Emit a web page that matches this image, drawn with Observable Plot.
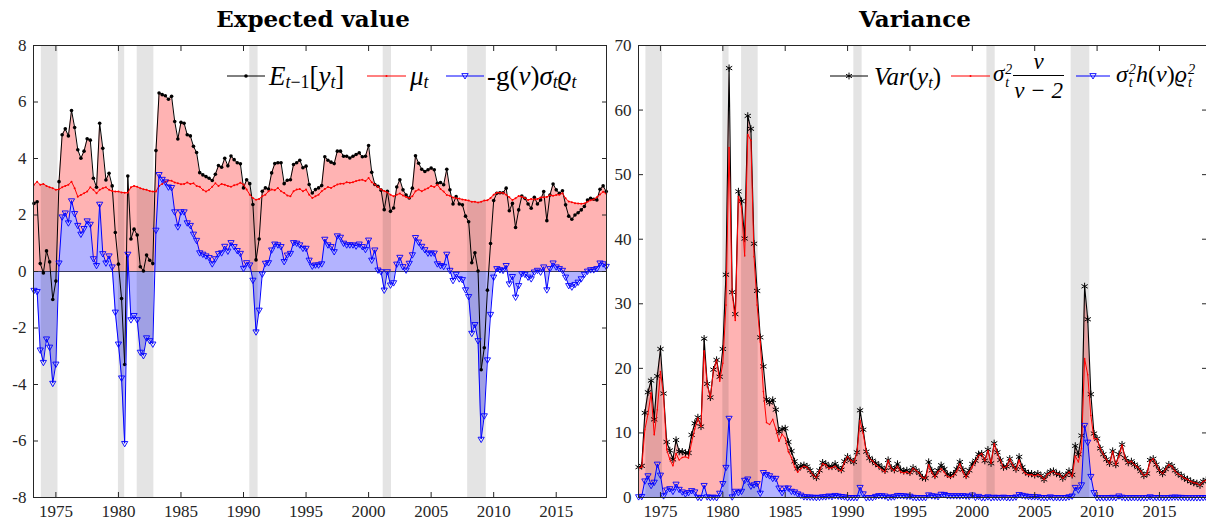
<!DOCTYPE html>
<html>
<head>
<meta charset="utf-8">
<script src="https://cdn.jsdelivr.net/npm/d3@7"></script>
<script src="https://cdn.jsdelivr.net/npm/@observablehq/plot@0.6"></script>
<style>
  html, body { margin: 0; padding: 0; background: #fff; }
  #wrap { position: relative; width: 1206px; height: 522px; overflow: hidden; background: #fff; }
  .panel { position: absolute; top: 0; }
  .title { position: absolute; top: 5px; font-family: "DejaVu Serif", serif; font-weight: bold; font-size: 23px; color: #000; transform: translateX(-50%); white-space: nowrap; }
  .lg { position: absolute; font-family: "Liberation Serif", serif; color: #000; line-height: 1; transform: translateY(-50%); white-space: nowrap; }
  .lg i { font-style: italic; }
  .lg sub { font-size: 0.66em; vertical-align: -0.22em; line-height: 0; }
  .ss { display: inline-flex; flex-direction: column; vertical-align: middle; font-size: 0.6em; line-height: 0.95em; font-style: italic; margin-left: 1px; }
  .frac { display: inline-flex; flex-direction: column; align-items: center; vertical-align: middle; font-style: italic; margin-left: 1px; }
  .frac .num { padding: 0 1px 2px 1px; }
  .frac .den { border-top: 1px solid #000; padding: 3px 1px 0 1px; }
  #legendSvg { position: absolute; left: 0; top: 0; pointer-events: none; }
</style>
</head>
<body>
<div id="wrap">
  <div id="left" class="panel" style="left:0px"></div>
  <div id="right" class="panel" style="left:606px"></div>
  <div class="title" style="left:313px">Expected value</div>
  <div class="title" style="left:915px">Variance</div>
</div>
<script>
// ---------------- data (quarterly, first quarter 1973.25) ----------------
const firstQuarter = 1973.25;
const xTicks = [1975, 1980, 1985, 1990, 1995, 2000, 2005, 2010, 2015];
const yTicksLeft = [-8, -6, -4, -2, 0, 2, 4, 6, 8];
const yTicksRight = [0, 10, 20, 30, 40, 50, 60, 70];

// recession periods (NBER)
const recStart = [1973.833, 1980.0, 1981.5, 1990.5, 2001.167, 2007.917];
const recEnd   = [1975.167, 1980.5, 1982.833, 1991.167, 2001.833, 2009.417];

// Left panel: E_{t-1}[y_t]
const E = [
 2.41, 2.47, 0.28, -0.05, 0.73, 0.34, -0.99, -0.34, 3.18, 4.84,
 5.05, 4.80, 5.70, 5.10, 4.31, 4.01, 4.26, 4.70, 4.65, 3.30,
 2.98, 5.25, 4.36, 3.24, 3.48, 3.03, 1.38, 0.26, -0.96, -3.29,
 3.38, 1.15, 1.50, 1.29, 0.17, 0.02, 0.58, 0.40, 0.28, 4.28,
 6.32, 6.26, 6.22, 6.10, 6.20, 5.31, 4.69, 5.28, 5.25, 4.84,
 4.80, 4.43, 4.21, 3.50, 3.42, 3.36, 3.30, 3.22, 3.44, 3.75,
 3.69, 4.01, 3.74, 4.09, 3.96, 3.85, 3.81, 2.96, 3.25, 3.11,
 2.37, 0.41, 1.15, 2.84, 2.96, 2.92, 3.49, 3.82, 3.85, 3.85,
 3.11, 3.23, 3.25, 3.79, 3.85, 3.94, 3.67, 3.73, 3.08, 2.78,
 2.90, 2.96, 3.04, 4.06, 3.94, 3.87, 3.82, 4.26, 4.26, 4.08,
 4.08, 4.02, 4.08, 4.14, 4.20, 4.06, 4.08, 4.46, 3.51, 3.08,
 3.02, 2.88, 2.19, 2.84, 2.13, 2.25, 2.99, 3.25, 2.89, 2.71,
 2.60, 2.95, 4.10, 3.83, 3.62, 3.54, 3.60, 3.66, 3.60, 3.12,
 3.15, 3.07, 3.62, 2.89, 2.39, 2.65, 2.39, 2.36, 1.96, 1.76,
 0.31, 0.66, 0.02, -3.48, -2.70, -0.66, 0.99, 2.51, 2.77, 2.79,
 2.79, 2.95, 2.15, 2.41, 1.56, 2.18, 2.67, 2.59, 2.39, 2.24,
 2.63, 2.39, 2.53, 2.83, 1.80, 2.71, 3.10, 2.89, 2.77, 2.86,
 2.36, 1.96, 1.85, 2.00, 2.08, 2.18, 2.30, 2.53, 2.59, 2.56,
 2.53, 2.91, 3.03, 2.83
];
// Left panel: mu_t
const MU = [
 3.07, 3.18, 3.07, 3.10, 3.03, 2.98, 2.95, 2.89, 2.91, 2.98,
 3.03, 3.07, 3.18, 2.95, 2.65, 2.71, 2.77, 2.83, 2.98, 2.89,
 2.77, 2.89, 2.95, 2.98, 2.89, 2.85, 2.83, 2.83, 2.80, 2.79,
 2.79, 2.98, 3.03, 3.00, 2.95, 2.91, 2.89, 2.85, 2.83, 2.83,
 3.03, 3.10, 3.18, 3.22, 3.21, 3.15, 3.12, 3.09, 3.10, 3.15,
 3.10, 3.12, 3.03, 3.00, 2.89, 2.83, 2.89, 3.00, 3.12, 3.03,
 3.10, 3.07, 3.03, 3.00, 3.05, 3.08, 3.14, 3.08, 2.90, 2.72,
 2.60, 2.54, 2.57, 2.66, 2.72, 2.84, 2.90, 2.88, 2.96, 2.84,
 2.78, 2.69, 2.66, 2.84, 2.90, 2.92, 2.84, 2.90, 2.72, 2.60,
 2.66, 2.72, 2.84, 2.92, 2.99, 2.96, 3.02, 3.08, 3.11, 3.11,
 3.16, 3.14, 3.16, 3.20, 3.23, 3.25, 3.20, 3.31, 3.16, 3.08,
 2.99, 2.90, 2.85, 2.80, 2.72, 2.66, 2.72, 2.76, 2.69, 2.64,
 2.60, 2.66, 2.84, 2.90, 2.84, 2.90, 2.95, 3.03, 2.99, 3.07,
 2.92, 2.83, 2.71, 2.68, 2.62, 2.59, 2.58, 2.55, 2.53, 2.51,
 2.47, 2.47, 2.44, 2.47, 2.51, 2.52, 2.60, 2.72, 2.79, 2.79,
 2.78, 2.72, 2.63, 2.53, 2.59, 2.67, 2.65, 2.60, 2.53, 2.57,
 2.55, 2.57, 2.62, 2.63, 2.64, 2.70, 2.68, 2.71, 2.72, 2.77,
 2.59, 2.48, 2.45, 2.42, 2.41, 2.40, 2.41, 2.47, 2.52, 2.55,
 2.63, 2.73, 2.82, 2.75
];
// Left panel: -g(nu) sigma_t rho_t
const G = [
 -0.66, -0.70, -2.77, -3.21, -2.38, -2.67, -3.95, -3.27, 0.31, 1.94,
 2.08, 1.73, 2.51, 2.06, 1.64, 1.33, 1.53, 1.80, 1.68, 0.46,
 0.22, 2.39, 0.64, 0.31, 0.56, 0.17, -1.43, -2.56, -3.76, -6.08,
 0.62, -1.70, -1.55, -1.70, -2.85, -2.97, -2.34, -2.44, -2.56, 1.47,
 3.44, 3.27, 3.18, 3.00, 2.98, 2.12, 1.59, 2.12, 2.12, 1.73,
 1.64, 1.33, 1.11, 0.67, 0.62, 0.56, 0.50, 0.28, 0.46, 0.64,
 0.67, 0.90, 0.73, 1.03, 0.89, 0.75, 0.65, 0.12, 0.32, 0.24,
 -0.30, -2.13, -1.36, -0.08, 0.30, 0.32, 0.77, 0.98, 0.95, 0.89,
 0.36, 0.59, 0.65, 1.03, 1.01, 0.95, 0.83, 0.83, 0.41, 0.20,
 0.24, 0.24, 0.28, 1.15, 0.95, 0.89, 0.71, 1.27, 1.22, 1.01,
 0.95, 0.95, 0.95, 0.91, 0.98, 0.89, 0.79, 1.12, 0.41, 0.77,
 0.06, 0.00, -0.65, 0.00, -0.47, -0.39, 0.27, 0.51, 0.18, 0.06,
 0.30, 0.60, 1.21, 1.05, 0.90, 0.78, 0.66, 0.66, 0.66, 0.28,
 0.22, 0.19, 0.62, 0.05, -0.31, -0.09, -0.25, -0.28, -0.64, -0.88,
 -2.18, -1.87, -2.44, -5.93, -5.10, -3.12, -1.51, -0.19, 0.11, 0.07,
 0.05, 0.22, -0.43, -0.17, -0.90, -0.49, -0.07, -0.09, -0.19, -0.25,
 -0.01, 0.05, -0.01, 0.17, -0.64, 0.11, 0.31, 0.17, 0.11, 0.05,
 -0.19, -0.49, -0.54, -0.45, -0.37, -0.25, -0.09, 0.02, 0.07, 0.07,
 0.11, 0.31, 0.28, 0.19
];
// Right panel: Var(y_t)
const VAR = [
 4.7, 4.9, 13.1, 16.3, 18.1, 12.1, 18.8, 23.0, 16.1, 8.6,
 7.3, 5.9, 8.9, 7.1, 7.1, 6.9, 6.9, 9.7, 11.5, 12.4,
 11.0, 24.6, 17.6, 15.5, 19.8, 21.3, 18.7, 23.0, 34.5, 66.5,
 31.8, 28.4, 47.4, 45.9, 40.1, 59.1, 57.1, 39.3, 32.0, 24.8,
 20.3, 15.2, 14.7, 15.1, 13.6, 10.2, 10.6, 10.7, 8.6, 7.2,
 5.6, 4.5, 4.9, 5.0, 4.8, 4.2, 3.5, 3.1, 4.2, 5.4,
 5.2, 4.8, 4.8, 5.2, 4.6, 4.3, 5.6, 6.3, 5.8, 5.5,
 7.0, 13.5, 10.5, 7.1, 6.1, 5.7, 5.3, 5.0, 4.6, 4.2,
 5.8, 4.6, 4.3, 5.2, 4.3, 4.1, 4.2, 3.9, 4.6, 4.2,
 3.8, 3.1, 3.0, 5.5, 4.2, 3.4, 4.2, 5.0, 4.4, 3.6,
 3.4, 3.7, 4.4, 5.5, 4.3, 3.4, 4.2, 5.2, 5.7, 6.7,
 6.8, 5.7, 7.4, 5.3, 8.4, 7.0, 5.8, 4.7, 4.8, 6.0,
 5.0, 4.4, 6.3, 4.7, 4.0, 3.7, 3.7, 3.5, 3.7, 3.4,
 2.8, 3.6, 4.0, 4.1, 3.7, 3.6, 3.0, 3.5, 4.1, 3.5,
 8.0, 6.7, 9.6, 32.7, 27.6, 16.0, 9.9, 9.1, 7.6, 6.7,
 5.9, 5.3, 7.2, 5.1, 6.7, 8.2, 6.1, 5.4, 5.6, 5.1,
 4.7, 4.1, 3.4, 3.7, 5.8, 6.0, 5.1, 4.2, 3.7, 4.4,
 5.1, 4.9, 4.2, 3.7, 3.4, 3.0, 2.8, 2.5, 2.3, 2.2,
 1.9, 2.5, 2.7
];
// Right panel: sigma_t^2 nu/(nu-2)
const SIG = [
 4.55, 4.7, 10.5, 12.9, 16.2, 9.7, 13.6, 19.5, 15.8, 7.4,
 5.9, 4.9, 6.8, 5.8, 6.2, 6.3, 6.1, 8.6, 10.6, 12.3,
 11.0, 22.7, 17.5, 15.5, 19.7, 21.3, 18.0, 20.8, 29.8, 54.2,
 31.7, 27.4, 46.6, 44.9, 37.4, 56.2, 55.3, 37.3, 29.8, 24.1,
 16.4, 11.6, 11.3, 12.1, 10.6, 8.7, 9.8, 9.2, 7.1, 6.2,
 4.7, 3.9, 4.5, 4.85, 4.67, 4.1, 3.42, 3.07, 4.13, 5.26,
 5.05, 4.53, 4.62, 4.85, 4.34, 4.11, 5.46, 6.3, 5.77, 5.48,
 6.97, 11.9, 9.9, 7.1, 6.07, 5.67, 5.1, 4.68, 4.3, 3.94,
 5.76, 4.48, 4.16, 4.85, 3.96, 3.8, 3.97, 3.67, 4.54, 4.19,
 3.78, 3.08, 2.97, 5.06, 3.9, 3.14, 4.03, 4.46, 3.9, 3.26,
 3.1, 3.4, 4.1, 5.22, 3.98, 3.14, 3.99, 4.78, 5.64, 6.5,
 6.8, 5.7, 7.26, 5.3, 8.33, 6.95, 5.78, 4.61, 4.79, 6.0,
 4.97, 4.28, 5.81, 4.33, 3.73, 3.5, 3.55, 3.35, 3.55, 3.37,
 2.78, 3.59, 3.87, 4.1, 3.67, 3.6, 2.98, 3.47, 3.96, 3.24,
 6.4, 5.5, 7.6, 21.5, 19.0, 12.7, 9.1, 9.09, 7.6, 6.7,
 5.9, 5.28, 7.14, 5.09, 6.43, 8.12, 6.1, 5.4, 5.59, 5.08,
 4.7, 4.1, 3.4, 3.69, 5.66, 6.0, 5.07, 4.19, 3.7, 4.4,
 5.09, 4.82, 4.1, 3.63, 3.35, 2.98, 2.8, 2.5, 2.3, 2.2,
 1.9, 2.47, 2.67
];
// Right panel: sigma_t^2 h(nu) rho_t^2
const HR = [
 0.15, 0.2, 2.6, 3.4, 1.9, 2.4, 5.2, 3.5, 0.3, 1.2,
 1.4, 1.0, 2.1, 1.3, 0.9, 0.6, 0.8, 1.1, 0.9, 0.07,
 0.02, 1.9, 0.14, 0.03, 0.1, 0.01, 0.7, 2.2, 4.7, 12.3,
 0.13, 1.0, 0.8, 1.0, 2.7, 2.9, 1.8, 2.0, 2.2, 0.7,
 3.9, 3.6, 3.4, 3.0, 3.0, 1.5, 0.8, 1.5, 1.5, 1.0,
 0.9, 0.6, 0.4, 0.15, 0.13, 0.1, 0.08, 0.03, 0.07, 0.14,
 0.15, 0.27, 0.18, 0.35, 0.26, 0.19, 0.14, 0.0, 0.03, 0.02,
 0.03, 1.6, 0.6, 0.0, 0.03, 0.03, 0.2, 0.32, 0.3, 0.26,
 0.04, 0.12, 0.14, 0.35, 0.34, 0.3, 0.23, 0.23, 0.06, 0.01,
 0.02, 0.02, 0.03, 0.44, 0.3, 0.26, 0.17, 0.54, 0.5, 0.34,
 0.3, 0.3, 0.3, 0.28, 0.32, 0.26, 0.21, 0.42, 0.06, 0.2,
 0.0, 0.0, 0.14, 0.0, 0.07, 0.05, 0.02, 0.09, 0.01, 0.0,
 0.03, 0.12, 0.49, 0.37, 0.27, 0.2, 0.15, 0.15, 0.15, 0.03,
 0.02, 0.01, 0.13, 0.0, 0.03, 0.0, 0.02, 0.03, 0.14, 0.26,
 1.6, 1.2, 2.0, 11.2, 8.6, 3.3, 0.8, 0.01, 0.0, 0.0,
 0.0, 0.02, 0.06, 0.01, 0.27, 0.08, 0.0, 0.0, 0.01, 0.02,
 0.0, 0.0, 0.0, 0.01, 0.14, 0.0, 0.03, 0.01, 0.0, 0.0,
 0.01, 0.08, 0.1, 0.07, 0.05, 0.02, 0.0, 0.0, 0.0, 0.0,
 0.0, 0.03, 0.03
];

// ---------------- tables ----------------
const leftData = E.map((e, i) => ({t: firstQuarter + 0.25 * i, E: e, mu: MU[i], g: G[i]}));
const rightData = VAR.map((v, i) => ({t: firstQuarter + 0.25 * i, v: v, s: SIG[i], h: HR[i]}));
const recessions = recStart.map((s, i) => ({start: s, end: recEnd[i]}));

const PINK = "#ffb3b3", LAV = "#b3b3ff", AX = "#262626";
const baseStyle = {fontFamily: "'Liberation Serif', serif", fontSize: "17px", color: AX, background: "transparent", overflow: "visible"};

function axes(yTicks) {
  return [
    Plot.axisX({anchor: "bottom", ticks: xTicks, tickSize: -5, tickPadding: 12, tickFormat: d => String(d), label: null, stroke: AX}),
    Plot.axisX({anchor: "top", ticks: xTicks, tickSize: -5, tickFormat: () => "", label: null, stroke: AX}),
    Plot.axisY({anchor: "left", ticks: yTicks, tickSize: -5, tickPadding: 12, tickFormat: d => String(d), label: null, stroke: AX}),
    Plot.axisY({anchor: "right", ticks: yTicks, tickSize: -5, tickFormat: () => "", label: null, stroke: AX})
  ];
}

const left = Plot.plot({
  width: 620, height: 522,
  marginLeft: 33, marginRight: 14, marginTop: 45, marginBottom: 25,
  style: baseStyle,
  x: {domain: [1973.21, 2019.02]},
  y: {domain: [-8, 8]},
  marks: [
    Plot.areaY(leftData, {x: "t", y: "mu", fill: PINK}),
    Plot.areaY(leftData, {x: "t", y: "E", fill: PINK}),
    Plot.areaY(leftData, {x: "t", y: "g", fill: LAV}),
    Plot.rect(recessions, {x1: "start", x2: "end", fill: "#000", fillOpacity: 0.105}),
    Plot.ruleY([0], {stroke: "#3a3a5c", strokeWidth: 1}),
    Plot.line(leftData, {x: "t", y: "E", stroke: "#000", strokeWidth: 1}),
    Plot.dot(leftData, {x: "t", y: "E", r: 1.8, fill: "#000", stroke: "none"}),
    Plot.line(leftData, {x: "t", y: "mu", stroke: "#ff0000", strokeWidth: 1}),
    Plot.dot(leftData, {x: "t", y: "mu", r: 1, fill: "#ff0000", stroke: "none"}),
    Plot.line(leftData, {x: "t", y: "g", stroke: "#0000ff", strokeWidth: 1}),
    Plot.dot(leftData, {x: "t", y: "g", symbol: "triangle", rotate: 180, r: 2.3, fill: "none", stroke: "#0000ff", strokeWidth: 0.9}),
    Plot.frame({stroke: AX}),
    ...axes(yTicksLeft)
  ]
});
document.getElementById("left").appendChild(left);

const right = Plot.plot({
  width: 600, height: 522,
  marginLeft: 32, marginRight: 0, marginTop: 45, marginBottom: 25,
  style: baseStyle,
  x: {domain: [1973.24, 2018.77]},
  y: {domain: [0, 70]},
  marks: [
    Plot.areaY(rightData, {x: "t", y: "v", fill: PINK}),
    Plot.areaY(rightData, {x: "t", y: "h", fill: LAV}),
    Plot.rect(recessions, {x1: "start", x2: "end", fill: "#000", fillOpacity: 0.105}),
    Plot.line(rightData, {x: "t", y: "v", stroke: "#000", strokeWidth: 1.1}),
    Plot.dot(rightData, {x: "t", y: "v", symbol: "asterisk", r: 3.4, stroke: "#000", strokeWidth: 1}),
    Plot.line(rightData, {x: "t", y: "s", stroke: "#ff0000", strokeWidth: 1}),
    Plot.dot(rightData, {x: "t", y: "s", r: 0.8, fill: "#ff0000", stroke: "none"}),
    Plot.line(rightData, {x: "t", y: "h", stroke: "#0000ff", strokeWidth: 1}),
    Plot.dot(rightData, {x: "t", y: "h", symbol: "triangle", rotate: 180, r: 2.3, fill: "none", stroke: "#0000ff", strokeWidth: 0.9}),
    Plot.frame({stroke: AX}),
    ...axes(yTicksRight)
  ]
});
document.getElementById("right").appendChild(right);

// ---------------- legends (overlay) ----------------
const wrap = document.getElementById("wrap");
const NS = "http://www.w3.org/2000/svg";
const lsvg = document.createElementNS(NS, "svg");
lsvg.setAttribute("id", "legendSvg");
lsvg.setAttribute("width", 1206);
lsvg.setAttribute("height", 522);
function el(tag, attrs) { const e = document.createElementNS(NS, tag); for (const k in attrs) e.setAttribute(k, attrs[k]); lsvg.appendChild(e); return e; }
function sample(x1, x2, y, color, marker) {
  el("line", {x1, x2, y1: y, y2: y, stroke: color, "stroke-width": 1});
  const cx = (x1 + x2) / 2;
  if (marker === "dot") el("circle", {cx, cy: y, r: 1.8, fill: color});
  if (marker === "small") el("circle", {cx, cy: y, r: 1, fill: color});
  if (marker === "tri") el("path", {d: `M${cx - 3.2},${y - 2.4}L${cx + 3.2},${y - 2.4}L${cx},${y + 3}Z`, fill: "none", stroke: color, "stroke-width": 0.9});
  if (marker === "star") {
    const r = 3.4, a = Math.sqrt(3) / 2 * r;
    el("path", {d: `M${cx},${y - r}V${y + r}M${cx - a},${y - r / 2}L${cx + a},${y + r / 2}M${cx - a},${y + r / 2}L${cx + a},${y - r / 2}`, stroke: color, "stroke-width": 1, fill: "none"});
  }
}
const LY = 76;
sample(227, 265, LY, "#000", "dot");
sample(367, 406, LY, "#ff0000", "small");
sample(446, 484, LY, "#0000ff", "tri");
sample(830, 868, LY, "#000", "star");
sample(951, 990, LY, "#ff0000", "small");
sample(1076, 1110, LY, "#0000ff", "tri");
wrap.appendChild(lsvg);

function label(x, size, html) {
  const d = document.createElement("div");
  d.className = "lg";
  d.style.left = x + "px";
  d.style.top = LY + "px";
  d.style.fontSize = size + "px";
  d.innerHTML = html;
  wrap.appendChild(d);
}
label(269, 27, '<i>E</i><sub><i>t</i>−1</sub>[<i>y</i><sub><i>t</i></sub>]');
label(410, 27, '<i>μ</i><sub><i>t</i></sub>');
label(487, 27, '-g(<i>ν</i>)<i>σ</i><sub><i>t</i></sub><i>ϱ</i><sub><i>t</i></sub>');
label(874, 25, '<i>Var</i>(<i>y</i><sub><i>t</i></sub>)');
label(993, 23, '<i>σ</i><span class="ss"><span>2</span><span>t</span></span><span class="frac"><span class="num">ν</span><span class="den">ν − 2</span></span>');
label(1116, 24, '<i>σ</i><span class="ss"><span>2</span><span>t</span></span><i>h</i>(<i>ν</i>)<i>ϱ</i><span class="ss"><span>2</span><span>t</span></span>');
</script>
</body>
</html>
